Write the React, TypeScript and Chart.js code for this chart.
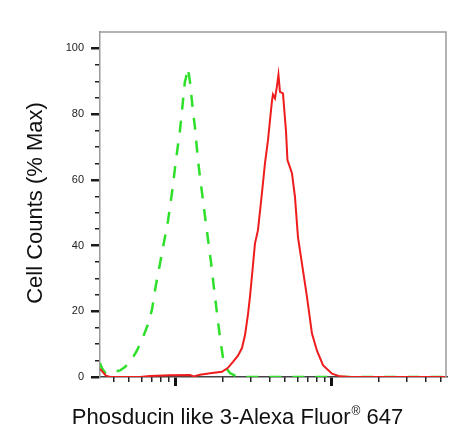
import React, { useEffect, useRef } from "react";
import { Chart, registerables } from "chart.js";

Chart.register(...registerables);

const FONT = '"Liberation Sans", Arial, sans-serif';

// control (isotype) histogram: intensity on log axis, counts as % of max
const controlIntensity = [32.6, 33.5, 35.1, 37.2, 39.5, 43.8, 47.1, 51.5, 56.2, 61.4, 66.1, 70.2, 74.4, 79.0, 83.8, 88.9, 94.3, 100, 106.1, 110.9, 114.2, 115.9, 118.5, 121.2, 122.9, 128.5, 132.4, 138.4, 142.5, 153.5, 160.4, 167.7, 175.3, 183.2, 191.5, 200.1, 209.2, 221.9, 242.5, 276.9, 5381];
const controlCounts = [4.2, 2.8, 1.3, 1.0, 1.5, 2.0, 3.0, 5.0, 8.0, 12, 16, 20.5, 28, 34.5, 41, 47.5, 56, 66, 75, 84, 90, 91, 94, 92, 90, 81, 76, 66, 61, 49, 42, 35, 27, 19.5, 12, 6, 2.8, 1.2, 0.3, 0, 0];

// stained sample histogram
const sampleIntensity = [32.6, 34.0, 35.6, 37.8, 58.8, 68.1, 91.5, 122.9, 130.4, 142.5, 170.1, 197.2, 215.4, 232.0, 249.7, 264.9, 276.9, 289.4, 298.1, 311.6, 320.9, 335.5, 355.8, 372.0, 388.8, 412.5, 418.6, 431.2, 444.1, 454.0, 464.2, 485.2, 507.1, 518.5, 554.1, 579.2, 605.4, 642.2, 691.4, 744.4, 801.5, 876.0, 1000, 1125, 1304, 5381];
const sampleCounts = [2.5, 1.5, 0.4, 0, 0, 0.3, 0.5, 0.6, 0.2, 0.7, 1.2, 1.6, 2.8, 4.6, 6.5, 8.8, 12.7, 19, 24.4, 34, 40.6, 44.7, 56, 65, 72, 84, 86, 84.8, 88.5, 92, 86.8, 86.3, 75, 66, 62, 54.8, 42.6, 34.5, 24.4, 13.2, 8, 3.6, 1, 0.2, 0, 0];

const yMajorTicks = [0, 20, 40, 60, 80, 100];
const yMinorTicks = [5, 10, 15, 25, 30, 35, 45, 50, 55, 65, 70, 75, 85, 90, 95];
const xMajorTicks = [100, 1000];
const xMinorTicks = [40, 50, 60, 70, 80, 90, 200, 300, 400, 500, 600, 700, 800, 900, 2000, 3000, 4000, 5000];

const xMin = 32.6;
const xMax = 5381;

const xTitleMain = "Phosducin like 3-Alexa Fluor";
const xTitleSup = "®";
const xTitleEnd = " 647";
const yTitle = "Cell Counts (% Max)";

const toPoints = (xs: number[], ys: number[]) => xs.map((x, i) => ({ x, y: ys[i] }));

const framePlugin = {
  id: "frame",
  afterDraw(chart: any) {
    const { ctx, chartArea } = chart;
    const { left, top, right, bottom } = chartArea;
    ctx.save();
    ctx.strokeStyle = "#9a9a9a";
    ctx.lineWidth = 1.5;
    ctx.beginPath();
    ctx.moveTo(left, top);
    ctx.lineTo(right, top);
    ctx.lineTo(right, bottom);
    ctx.stroke();

    // axis titles
    ctx.fillStyle = "#111";
    ctx.textBaseline = "alphabetic";
    ctx.font = `22px ${FONT}`;
    const w1 = ctx.measureText(xTitleMain).width;
    const w3 = ctx.measureText(xTitleEnd).width;
    ctx.font = `12px ${FONT}`;
    const w2 = ctx.measureText(xTitleSup).width;
    let x = 237 - (w1 + w2 + w3) / 2;
    const base = 424;
    ctx.textAlign = "left";
    ctx.font = `22px ${FONT}`;
    ctx.fillText(xTitleMain, x, base);
    x += w1 + 1;
    ctx.font = `12px ${FONT}`;
    ctx.fillText(xTitleSup, x, base - 9);
    x += w2;
    ctx.font = `22px ${FONT}`;
    ctx.fillText(xTitleEnd, x, base);

    ctx.translate(42, 203);
    ctx.rotate(-Math.PI / 2);
    ctx.textAlign = "center";
    ctx.fillText(yTitle, 0, 0);
    ctx.restore();
  },
};

const App: React.FC = () => {
  const chartRef = useRef<HTMLCanvasElement | null>(null);
  const chartInstance = useRef<Chart | null>(null);

  useEffect(() => {
    document.body.style.margin = "0";
    if (!chartRef.current) return;
    const ctx = chartRef.current.getContext("2d");
    if (!ctx) return;

    chartInstance.current = new Chart(ctx, {
      type: "line",
      data: {
        datasets: [
          {
            label: "Phosducin like 3",
            data: toPoints(sampleIntensity, sampleCounts),
            borderColor: "#ee1c1c",
            borderWidth: 2,
            pointRadius: 0,
            fill: false,
            tension: 0,
          },
          {
            label: "Isotype control",
            data: toPoints(controlIntensity, controlCounts),
            borderColor: "#2ee02a",
            borderWidth: 2.5,
            borderDash: [12, 11],
            pointRadius: 0,
            fill: false,
            tension: 0,
          },
        ],
      },
      plugins: [framePlugin],
      options: {
        animation: false,
        responsive: false,
        devicePixelRatio: 1,
        layout: { padding: { top: 32, right: 28, left: 0, bottom: 0 } },
        plugins: { legend: { display: false }, tooltip: { enabled: false } },
        scales: {
          x: {
            type: "logarithmic",
            position: "bottom",
            weight: 0,
            min: xMin,
            max: xMax,
            afterBuildTicks: (s: any) => {
              s.ticks = xMinorTicks.map((v) => ({ value: v }));
            },
            afterFit: (s: any) => {
              s.height = 0;
            },
            ticks: { callback: () => "", autoSkip: false, maxRotation: 0 },
            grid: { drawOnChartArea: false, tickLength: 5, lineWidth: 1.5, color: "#222" },
            border: { display: false },
          },
          xMajor: {
            type: "logarithmic",
            position: "bottom",
            weight: 1,
            min: xMin,
            max: xMax,
            afterBuildTicks: (s: any) => {
              s.ticks = xMajorTicks.map((v) => ({ value: v }));
            },
            afterFit: (s: any) => {
              s.height = 64;
            },
            ticks: { callback: () => "", autoSkip: false, maxRotation: 0 },
            grid: { drawOnChartArea: false, tickLength: 9, lineWidth: 3, color: "#111" },
            border: { display: true, color: "#444", width: 1.5 },
          },
          y: {
            type: "linear",
            position: "left",
            weight: 1,
            min: 0,
            max: 105,
            afterBuildTicks: (s: any) => {
              s.ticks = yMajorTicks.map((v) => ({ value: v }));
            },
            afterFit: (s: any) => {
              s.width = 100;
            },
            ticks: { font: { size: 11, family: FONT }, color: "#222", padding: 7 },
            grid: { drawOnChartArea: false, tickLength: 9, lineWidth: 2.5, color: "#1a1a1a" },
            border: { display: true, color: "#999", width: 1.5 },
          },
          yMinor: {
            type: "linear",
            position: "left",
            weight: 0,
            min: 0,
            max: 105,
            afterBuildTicks: (s: any) => {
              s.ticks = yMinorTicks.map((v) => ({ value: v }));
            },
            afterFit: (s: any) => {
              s.width = 0;
            },
            ticks: { callback: () => "" },
            grid: { drawOnChartArea: false, tickLength: 5, lineWidth: 1.5, color: "#222" },
            border: { display: false },
          },
        },
      },
    } as any);

    return () => {
      if (chartInstance.current) {
        chartInstance.current.destroy();
        chartInstance.current = null;
      }
    };
  }, []);

  return <canvas ref={chartRef} width={474} height={441} style={{ display: "block" }} />;
};

export default App;
